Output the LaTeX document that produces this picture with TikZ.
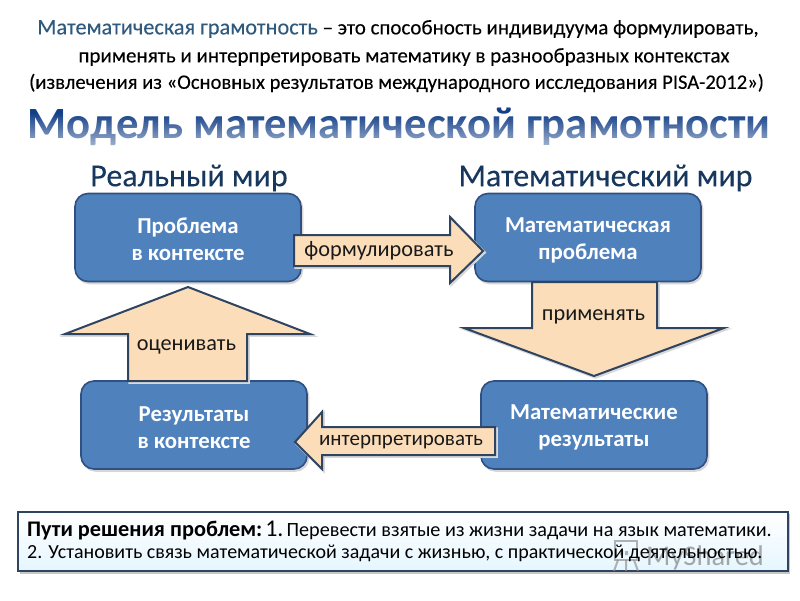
\documentclass[tikz,border=0pt]{standalone}
\usepackage{fontspec}
\setmainfont{Carlito}
\newfontfamily\semifont[FakeBold=0.12]{Carlito}
\definecolor{boxblue}{HTML}{4F81BD}
\definecolor{boxline}{HTML}{2F5080}
\definecolor{tan}{HTML}{FBDDBA}
\definecolor{arrowline}{HTML}{2E4460}
\definecolor{navy}{HTML}{17375E}
\definecolor{headblue}{HTML}{2F5A7E}
\definecolor{titleblue}{HTML}{123F88}
\newcommand\lowerfirst{\rule{0pt}{20pt}}
\pgfdeclareverticalshading{boxshade}{100bp}{
  color(0bp)=(boxblue!70!black);
  color(6bp)=(boxblue!90!black);
  color(10bp)=(boxblue);
  color(88bp)=(boxblue);
  color(94bp)=(boxblue!60!white);
  color(100bp)=(boxblue!50!white)}
\tikzset{
  softshadow/.style={preaction={fill=black!16,draw=black!16,line width=1.5pt,transform canvas={xshift=1.5pt,yshift=-2pt}}},
  bluebox/.style={rounded corners=13pt,shading=boxshade,softshadow,
    minimum width=226pt,minimum height=88pt,inner sep=0pt,align=center,
    text=white,font=\fontsize{22.8}{27}\selectfont\bfseries,
    postaction={draw=boxline,line width=1.6pt}},
  blockarrow/.style={draw=arrowline,line width=2pt,fill=tan,line join=miter,
    preaction={draw=black!15,line width=2.5pt,transform canvas={xshift=1.5pt,yshift=-1.5pt}}},
  arrowtext/.style={inner sep=0pt,text=black!90,font=\fontsize{22.3}{25}\selectfont},
  worldtext/.style={inner sep=0pt,text=navy,font=\semifont\fontsize{32}{36}\selectfont},
  headline/.style={inner sep=0pt,text=black,font=\semifont\fontsize{21}{24}\selectfont},
}
\begin{document}
\begin{tikzpicture}[x=1pt,y=-1pt]
\useasboundingbox (0,0) rectangle (800,600);
\fill[white] (0,0) rectangle (800,600);
% heading
\node[headline] (h1) at (398,29) {\textcolor{headblue}{\fontsize{22.3}{24}\selectfont Математическая грамотность} – это способность индивидуума формулировать,};
\node[headline] (h2) at (404,57) {применять и интерпретировать математику в разнообразных контекстах};
\node[headline,font=\semifont\fontsize{20.6}{24}\selectfont] (h3) at (396.5,83) {(извлечения из «Основных результатов международного исследования PISA-2012»)};
% title
\node[inner sep=0pt,text=titleblue,font=\fontsize{44.7}{48}\selectfont\bfseries] (title) at (399,127) {Модель математической грамотности};
\foreach \i in {0,...,17}{
  \fill[white,opacity=\i*0.036] (15,{112+2*\i}) rectangle (785,{114+2*\i});
}
\fill[white,opacity=.66] (15,148) rectangle (785,158);
% worlds
\node[worldtext] (w1) at (189,178) {Реальный мир};
\node[worldtext] (w2) at (605.5,178) {Математический мир};
% boxes
\node[bluebox] (b1) at (188,237.5) {\lowerfirst Проблема\\в контексте};
\node[bluebox] (b2) at (588,237.5) {\lowerfirst Математическая\\проблема};
\node[bluebox] (b3) at (194,425) {\lowerfirst Результаты\\в контексте};
\node[bluebox] (b4) at (594,425) {\lowerfirst Математические\\результаты};
% arrows
\draw[blockarrow] (294,235) -- (450,235) -- (450,217) -- (483,251) -- (450,283) -- (450,266) -- (294,266) -- cycle;
\draw[blockarrow] (532,282) -- (657,282) -- (657,328) -- (724,328) -- (594,376) -- (464,328) -- (532,328) -- cycle;
\draw[blockarrow] (128,381) -- (128,334) -- (65,334) -- (188,287) -- (310,334) -- (247,334) -- (247,381) -- cycle;
\draw[blockarrow] (495,427) -- (322,427) -- (322,412) -- (295,442) -- (322,469) -- (322,455) -- (495,455) -- cycle;
\node[arrowtext] (a1) at (379,251) {формулировать};
\node[arrowtext] (a2) at (593.5,317) {применять};
\node[arrowtext] (a3) at (186.5,347) {оценивать};
\node[arrowtext,font=\fontsize{21}{25}\selectfont] (a4) at (401,442) {интерпретировать};
% bottom box
\fill[black!22] (20,514) rectangle (790,574);
\shade[top color=white,bottom color=blue!35!cyan!10!white,draw=arrowline,line width=2pt] (18,512) rectangle (788,571);
% watermark
\begin{scope}[draw=black!45,opacity=.65,line width=2pt]
\draw (615,541) rectangle (637,560);
\draw (618,560) -- (614,571) (626,560) -- (626,571) (634,560) -- (638,571);
\fill[black!45] (620,551) rectangle (623,555) (625,551) rectangle (628,555);
\end{scope}
\node[anchor=west,inner sep=0pt,text=black!45,opacity=.75,font=\fontsize{28.5}{33}\selectfont] (wm) at (646,558) {MyShared};
% text
\node[anchor=west,inner sep=0pt,font=\fontsize{22.3}{24}\selectfont] (p1) at (27,531) {\textbf{Пути решения проблем:}\hspace{3pt}{\fontsize{24}{24}\selectfont 1.}\hspace{3pt}{\fontsize{20.2}{24}\selectfont Перевести взятые из жизни задачи на язык математики.}};
\node[anchor=west,inner sep=0pt,font=\fontsize{20}{24}\selectfont] (p2) at (27,553) {2. Установить связь математической задачи с жизнью, с практической деятельностью.};
\end{tikzpicture}
\end{document}
